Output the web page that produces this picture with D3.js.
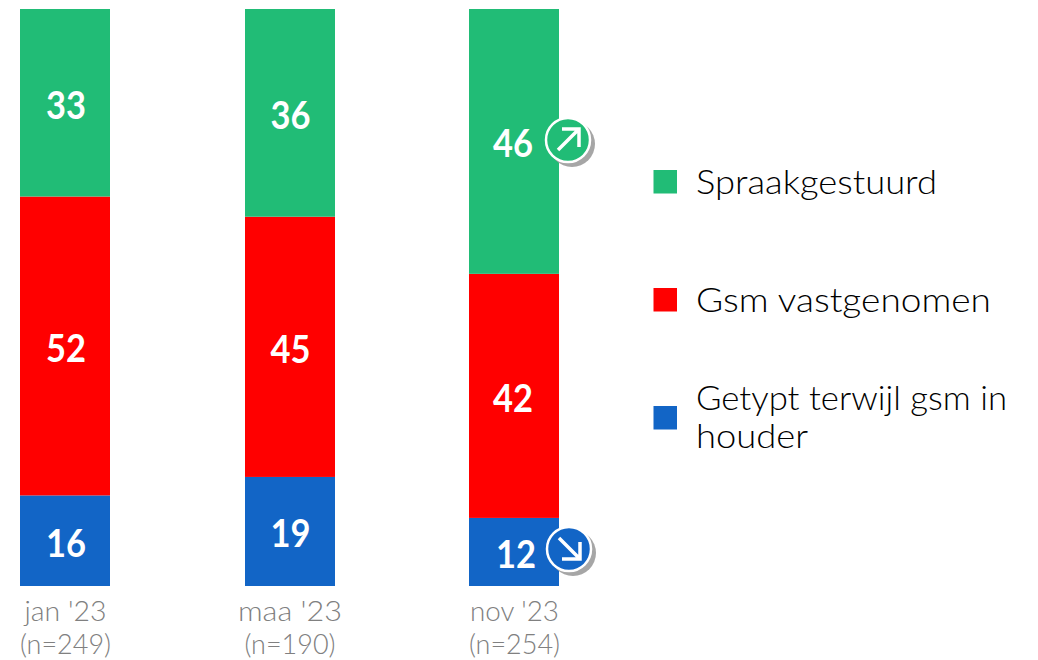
<!DOCTYPE html>
<html><head><meta charset="utf-8">
<script src="https://cdn.jsdelivr.net/npm/d3@7"></script>
<style>
html,body{margin:0;padding:0;background:#fff}
svg{display:block}
text{font-family:Lato,"Open Sans",sans-serif}
</style></head><body>
<svg id="c" width="1038" height="660"></svg>
<script>
const categories = ["jan '23", "maa '23", "nov '23"];
const sampleLabels = ["(n=249)", "(n=190)", "(n=254)"];
const seriesNames = ["Getypt terwijl gsm in houder", "Gsm vastgenomen", "Spraakgestuurd"];
const typed = [15.7, 18.9, 11.8];
const held = [51.8, 45.1, 42.3];
const voice = [32.5, 36.0, 45.9];
const seriesColors = ["#1265C6", "#FF0000", "#21BC76"];
const trends = [
  {category: "nov '23", series: "Spraakgestuurd", dir: "up"},
  {category: "nov '23", series: "Getypt terwijl gsm in houder", dir: "down"}
];

const rows = categories.map((c, i) => ({
  category: c,
  [seriesNames[0]]: typed[i],
  [seriesNames[1]]: held[i],
  [seriesNames[2]]: voice[i]
}));
const stacked = d3.stack().keys(seriesNames).offset(d3.stackOffsetExpand)(rows);

const svg = d3.select("#c");
const x = d3.scalePoint().domain(categories).range([65, 514]);
const y = d3.scaleLinear().domain([0, 1]).range([586, 9]);
const color = d3.scaleOrdinal().domain(seriesNames).range(seriesColors);
const barW = 90;

// bars
const layers = svg.selectAll("g.layer").data(stacked).join("g").attr("class", "layer")
  .attr("fill", d => color(d.key));
layers.selectAll("rect").data(d => d).join("rect")
  .attr("x", d => Math.ceil(x(d.data.category) - barW / 2))
  .attr("width", barW)
  .attr("y", d => y(d[1]))
  .attr("height", d => y(d[0]) - y(d[1]));

// value labels
layers.selectAll("text").data(d => d.map(v => ({v, key: d.key}))).join("text")
  .attr("x", d => x(d.v.data.category) + (d.v.data.category === "nov '23" ? (d.key === seriesNames[0] ? 2 : -1) : 1))
  .attr("y", d => (y(d.v[0]) + y(d.v[1])) / 2 + 16)
  .attr("text-anchor", "middle")
  .attr("fill", "#fff")
  .attr("font-weight", 700)
  .attr("font-size", 38)
  .attr("textLength", 40)
  .attr("lengthAdjust", "spacingAndGlyphs")
  .text(d => Math.round(d.v.data[d.key]));

// category axis labels
const catWidths = [82, 104, 89];
const axisG = svg.append("g").attr("fill", "#808080").attr("font-size", 28).attr("font-weight", 300).attr("text-anchor", "middle");
axisG.selectAll("text.cat").data(categories).join("text").attr("class", "cat")
  .attr("x", d => x(d) + 0.5).attr("y", 621)
  .attr("textLength", (d, i) => catWidths[i]).attr("lengthAdjust", "spacingAndGlyphs").text(d => d);
axisG.selectAll("text.n").data(sampleLabels).join("text").attr("class", "n")
  .attr("x", (d, i) => x(categories[i]) + 0.5).attr("y", 654)
  .attr("textLength", 91).attr("lengthAdjust", "spacingAndGlyphs").text(d => d);

// legend
const legendRows = [
  {key: "Spraakgestuurd", swatch: 170, lines: [["Spraakgestuurd", 194, 241]]},
  {key: "Gsm vastgenomen", swatch: 288, lines: [["Gsm vastgenomen", 312, 295]]},
  {key: "Getypt terwijl gsm in houder", swatch: 406, lines: [["Getypt terwijl gsm in", 410, 311], ["houder", 448, 112]]}
];
const legend = svg.append("g");
legendRows.forEach(r => {
  legend.append("rect").attr("x", 653.5).attr("y", r.swatch).attr("width", 23.5).attr("height", 23.5).attr("fill", color(r.key));
  r.lines.forEach(l => legend.append("text")
    .attr("x", 696).attr("y", l[1]).attr("font-size", 34).attr("font-weight", 300).attr("fill", "#000")
    .attr("textLength", l[2]).attr("lengthAdjust", "spacingAndGlyphs").text(l[0]));
});

// trend badges
trends.forEach(t => {
  const s = stacked.find(l => l.key === t.series);
  const d = s.find(p => p.data.category === t.category);
  const up = t.dir === "up";
  const cy = up ? y(d[1]) + 131 : y(d[0]) - 37;
  const g = svg.append("g").attr("transform", `translate(${x(t.category) + (up ? 54 : 55)},${cy})`);
  g.append("circle").attr("cx", 4).attr("cy", 4).attr("r", 23).attr("fill", "#A6A6A6");
  g.append("circle").attr("r", 22).attr("fill", color(t.series)).attr("stroke", "#fff").attr("stroke-width", 2.5);
  const path = up
    ? "M-10,10L11,-11M-6,-11H11V7"
    : "M-10,-11L11,10M-7,10H11V-7";
  g.append("path").attr("d", path).attr("fill", "none").attr("stroke", "#fff").attr("stroke-width", 3.5);
});
</script>
</body></html>
